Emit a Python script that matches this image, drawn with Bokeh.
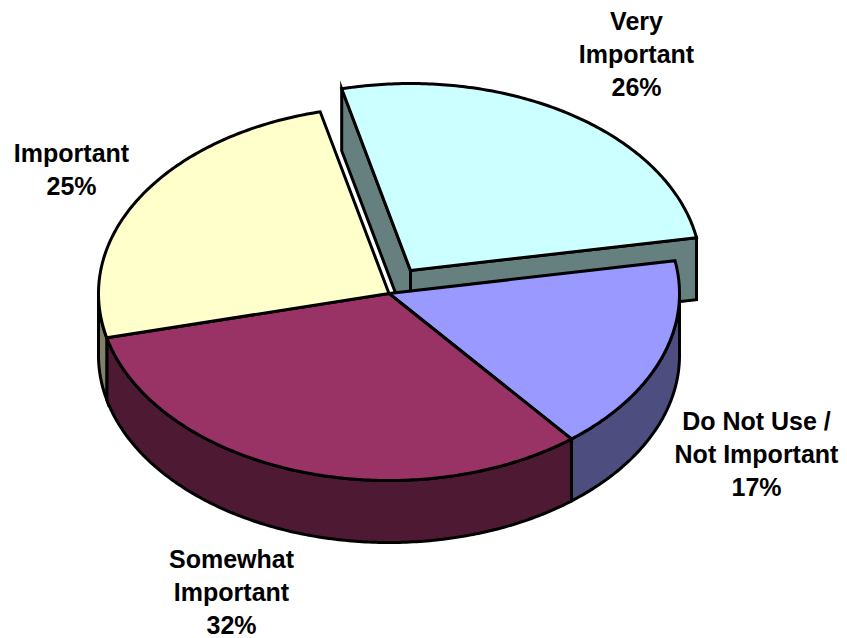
import math
from bokeh.plotting import figure
from bokeh.models import Range1d
from bokeh.core.properties import value
from bokeh.embed import file_html
from bokeh.resources import INLINE

categories = ["Very Important", "Do Not Use / Not Important", "Somewhat Important", "Important"]
values = [26, 17, 32, 25]
top_colors = ["#CCFFFF", "#9999FF", "#993366", "#FFFFCC"]
side_colors = ["#668080", "#4D4D80", "#4D1933", "#808066"]
label_lines = [["Very", "Important", "26%"], ["Do Not Use /", "Not Important", "17%"],
               ["Somewhat", "Important", "32%"], ["Important", "25%"]]
label_x = [636, 756, 231, 71]
label_y = [20, 420, 558, 152]
LINE_STEP = 33

START = -13.7
RX, RY, DEPTH = 290.5, 187, 62
CENTER = (388.5, 293)
EXPLODED = (410, 270)

W, H = 847, 638
p = figure(width=W, height=H, output_backend="svg", toolbar_location=None,
           x_range=Range1d(0, W), y_range=Range1d(H, 0), min_border=0)
p.axis.visible = False
p.grid.visible = False
p.outline_line_color = None
p.background_fill_color = "white"
p.border_fill_color = "white"


def pt(c, t, dz=0):
    r = math.radians(t)
    return c[0] + RX * math.sin(r), c[1] - RY * math.cos(r) + dz


def arc(c, a, b, dz=0):
    n = max(2, int(abs(b - a) * 1.5))
    return [pt(c, a + (b - a) * i / n, dz) for i in range(n + 1)]


def poly(points, fill):
    p.patch([q[0] for q in points], [q[1] for q in points], fill_color=fill,
            line_color="black", line_width=3, line_join="miter")


angles = []
cur = START
for v in values:
    angles.append((cur, cur + v / sum(values) * 360))
    cur += v / sum(values) * 360

# exploded slice: cut faces behind the main pie, then its top
a, b = angles[0]
ax, ay = EXPLODED
poly([(ax, ay), pt(EXPLODED, a), pt(EXPLODED, a, DEPTH), (ax, ay + DEPTH)], side_colors[0])
poly([(ax, ay), pt(EXPLODED, b), pt(EXPLODED, b, DEPTH), (ax, ay + DEPTH)], side_colors[0])
poly([(ax, ay)] + arc(EXPLODED, a, b), top_colors[0])

# main pie: outer walls
for i in (1, 2, 3):
    a, b = angles[i]
    lo, hi = max(a, 90), min(b, 270)
    if hi > lo:
        poly(arc(CENTER, lo, hi) + arc(CENTER, hi, lo, DEPTH), side_colors[i])

# main pie: tops
for i in (1, 2, 3):
    a, b = angles[i]
    poly([CENTER] + arc(CENTER, a, b), top_colors[i])

# labels
xs, ys, ts = [], [], []
for lines, x, y in zip(label_lines, label_x, label_y):
    for k, line in enumerate(lines):
        xs.append(x)
        ys.append(y + k * LINE_STEP)
        ts.append(line)
p.text(xs, ys, text=ts, text_font=value("Liberation Sans"), text_font_style="bold",
       text_font_size="25px", text_align="center", text_baseline="middle", text_color="black")

open("out.html", "w").write(file_html(p, INLINE))
